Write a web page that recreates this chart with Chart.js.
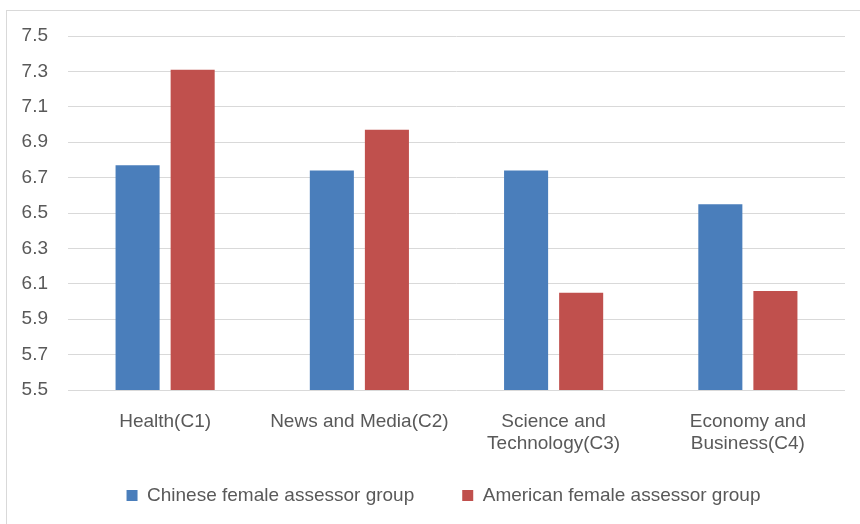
<!DOCTYPE html>
<html>
<head>
<meta charset="utf-8">
<title>Female assessor groups by category</title>
<script src="https://cdn.jsdelivr.net/npm/chart.js@4.4.1/dist/chart.umd.min.js"></script>
<style>
  html, body { margin: 0; padding: 0; background: #fff; }
  body { width: 860px; height: 524px; position: relative; overflow: hidden; }
  .frame {
    position: absolute; left: 6px; top: 10px; width: 900px; height: 600px;
    border-left: 1px solid #d9d9d9; border-top: 1px solid #d9d9d9;
  }
  .wrap { position: absolute; left: 0; top: 0; width: 860px; height: 524px; }
</style>
</head>
<body>
<div class="frame"></div>
<div class="wrap"><canvas id="chart"></canvas></div>
<script>
const categories = [
  'Health(C1)',
  'News and Media(C2)',
  ['Science and', 'Technology(C3)'],
  ['Economy and', 'Business(C4)']
];
const chineseGroup = [6.77, 6.74, 6.74, 6.55];
const americanGroup = [7.31, 6.97, 6.05, 6.06];
const seriesNames = ['Chinese female assessor group', 'American female assessor group'];
const yMin = 5.5;
const yMax = 7.5;
const yStep = 0.2;

const textColor = '#595959';
const gridColor = '#d9d9d9';
const fontFamily = '"Liberation Sans", Arial, sans-serif';

// the legend sits a bit right of and above where chart.js centres it
const legendNudge = {
  id: 'legendNudge',
  afterLayout(chart) {
    const l = chart.legend;
    if (!l) return;
    l.left += 21; l.right += 21;
    l.top -= 32; l.bottom -= 32;
  }
};

const ctx = document.getElementById('chart').getContext('2d');
new Chart(ctx, {
  type: 'bar',
  data: {
    labels: categories,
    datasets: [
      {
        label: seriesNames[0],
        data: chineseGroup,
        backgroundColor: '#4a7ebb',
        categoryPercentage: 0.567,
        barPercentage: 0.8
      },
      {
        label: seriesNames[1],
        data: americanGroup,
        backgroundColor: '#c0504d',
        categoryPercentage: 0.567,
        barPercentage: 0.8
      }
    ]
  },
  plugins: [legendNudge],
  options: {
    responsive: true,
    maintainAspectRatio: false,
    animation: false,
    layout: {
      padding: { left: 0, right: 15, top: 36, bottom: -23 }
    },
    plugins: {
      tooltip: { enabled: false },
      legend: {
        display: true,
        position: 'bottom',
        labels: {
          color: textColor,
          boxWidth: 11,
          boxHeight: 11,
          padding: 48,
          font: { family: fontFamily, size: 19 }
        }
      }
    },
    scales: {
      x: {
        grid: { display: false },
        border: { display: false },
        ticks: {
          color: textColor,
          padding: 12,
          maxRotation: 0,
          font: { family: fontFamily, size: 19, lineHeight: 1.2 }
        },
        afterFit: (axis) => { axis.height = 80; }
      },
      y: {
        min: yMin,
        max: yMax,
        grid: { color: gridColor, lineWidth: 1, drawTicks: false },
        border: { display: false },
        ticks: {
          stepSize: yStep,
          color: textColor,
          padding: 20,
          font: { family: fontFamily, size: 19 },
          callback: (v) => Number(v).toFixed(1)
        },
        afterFit: (axis) => { axis.width = 68; }
      }
    }
  }
});
</script>
</body>
</html>
